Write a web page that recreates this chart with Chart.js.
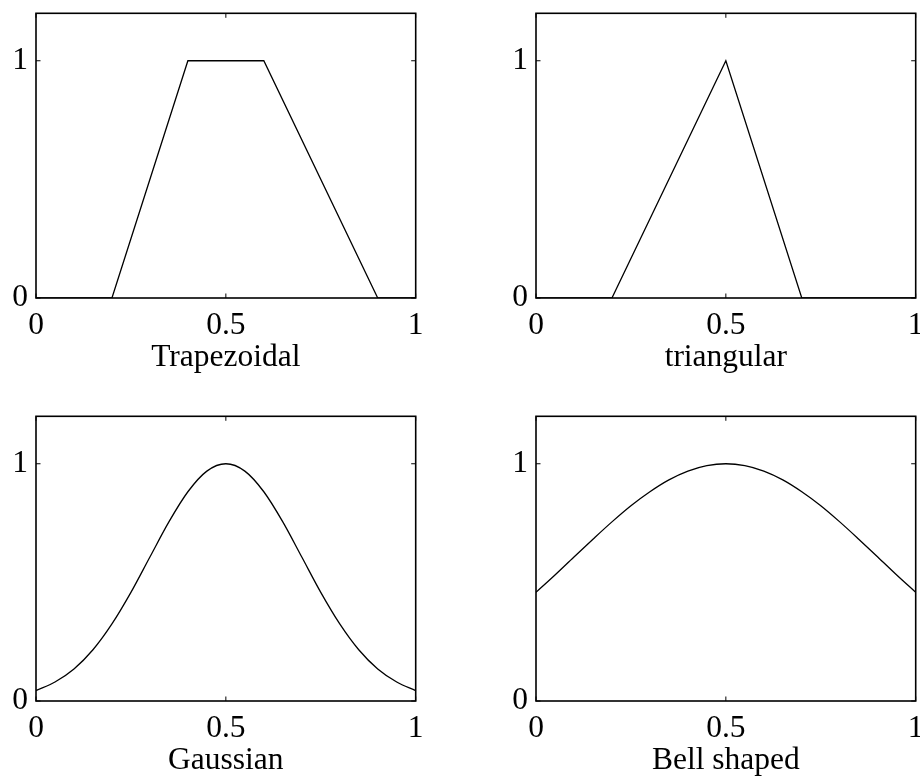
<!DOCTYPE html>
<html>
<head>
<meta charset="utf-8">
<script src="https://cdn.jsdelivr.net/npm/chart.js@4/dist/chart.umd.min.js"></script>
<style>
  html, body { margin: 0; padding: 0; background: #fff; overflow: hidden; }
  #wrap { position: relative; width: 920px; height: 778px; overflow: hidden; }
  canvas { position: absolute; }
</style>
</head>
<body>
<div id="wrap">
  <canvas id="c0" width="500" height="389" style="left:0;top:0"></canvas>
  <canvas id="c1" width="500" height="389" style="left:500px;top:0"></canvas>
  <canvas id="c2" width="500" height="389" style="left:0;top:403.4px"></canvas>
  <canvas id="c3" width="500" height="389" style="left:500px;top:403.4px"></canvas>
</div>
<script>
// membership functions, x in [0, 1]
var titles = ['Trapezoidal', 'triangular', 'Gaussian', 'Bell shaped'];
var xTicks = [0, 0.5, 1];
var yTicks = [0, 1];

var trapX = [0, 0.2, 0.4, 0.6, 0.9, 1];
var trapY = [0, 0, 1, 1, 0, 0];

var triX = [0, 0.2, 0.5, 0.7, 1];
var triY = [0, 0, 1, 0, 0];

var curveX = [0, 0.05, 0.1, 0.15, 0.2, 0.25, 0.3, 0.35, 0.4, 0.45, 0.5,
              0.55, 0.6, 0.65, 0.7, 0.75, 0.8, 0.85, 0.9, 0.95, 1];
var gaussY = [0.044, 0.080, 0.135, 0.216, 0.325, 0.458, 0.607, 0.755, 0.882, 0.969, 1.000,
              0.969, 0.882, 0.755, 0.607, 0.458, 0.325, 0.216, 0.135, 0.080, 0.044];
var bellY  = [0.458, 0.531, 0.607, 0.682, 0.755, 0.823, 0.882, 0.932, 0.969, 0.992, 1.000,
              0.992, 0.969, 0.932, 0.882, 0.823, 0.755, 0.682, 0.607, 0.531, 0.458];

var FONT = 'Liberation Serif, Times New Roman, serif';
var FSIZE = 31.5;

function pts(xs, ys) {
	return xs.map(function(x, i) { return {x: x, y: ys[i]}; });
}

// box round the axes plus short inward ticks on all four sides
var framePlugin = {
	id: 'frame',
	afterDraw: function(chart) {
		var ctx = chart.ctx, a = chart.chartArea;
		var sx = chart.scales.x, sy = chart.scales.y;
		var tl = 4.5;
		ctx.save();
		ctx.strokeStyle = '#000';
		ctx.lineWidth = 1.6;
		ctx.strokeRect(a.left, a.top, a.right - a.left, a.bottom - a.top);
		ctx.lineWidth = 1;
		ctx.beginPath();
		xTicks.forEach(function(v) {
			var px = sx.getPixelForValue(v);
			ctx.moveTo(px, a.bottom); ctx.lineTo(px, a.bottom - tl);
			ctx.moveTo(px, a.top); ctx.lineTo(px, a.top + tl);
		});
		yTicks.forEach(function(v) {
			var py = sy.getPixelForValue(v);
			ctx.moveTo(a.left, py); ctx.lineTo(a.left + tl, py);
			ctx.moveTo(a.right, py); ctx.lineTo(a.right - tl, py);
		});
		ctx.stroke();
		ctx.restore();
	}
};

function makeChart(id, title, data, smooth) {
	var config = {
		type: 'line',
		data: {
			datasets: [{
				data: data,
				borderColor: '#000',
				borderWidth: 1.3,
				pointRadius: 0,
				fill: false,
				tension: 0,
				cubicInterpolationMode: smooth ? 'monotone' : 'default'
			}]
		},
		options: {
			responsive: false,
			animation: false,
			devicePixelRatio: 1,
			layout: { padding: { left: 0, top: 13.3, right: 84.3, bottom: 0 } },
			plugins: { legend: { display: false }, tooltip: { enabled: false } },
			scales: {
				x: {
					type: 'linear',
					min: 0, max: 1,
					grid: { display: false, drawTicks: false },
					border: { display: false },
					afterBuildTicks: function(s) { s.ticks = xTicks.map(function(v) { return {value: v}; }); },
					afterFit: function(s) {
						s.height = 91;
						s.paddingLeft = 0; s.paddingRight = 0; s.paddingTop = 0; s.paddingBottom = 0;
					},
					ticks: {
						autoSkip: false, maxRotation: 0, padding: 12.2, color: '#000',
						font: { family: FONT, size: FSIZE, lineHeight: 1 },
						callback: function(v) { return String(v); }
					},
					title: {
						display: true, text: title, color: '#000',
						font: { family: FONT, size: FSIZE, lineHeight: 1 },
						padding: { top: 0, bottom: 15.6 }
					}
				},
				y: {
					type: 'linear',
					min: 0, max: 1.2,
					grid: { display: false, drawTicks: false },
					border: { display: false },
					afterBuildTicks: function(s) { s.ticks = yTicks.map(function(v) { return {value: v}; }); },
					afterFit: function(s) {
						s.width = 36;
						s.paddingLeft = 0; s.paddingRight = 0; s.paddingTop = 0; s.paddingBottom = 0;
					},
					ticks: {
						autoSkip: false, padding: 8, color: '#000',
						font: { family: FONT, size: FSIZE, lineHeight: 1 },
						callback: function(v) { return String(v); }
					}
				}
			}
		},
		plugins: [framePlugin]
	};
	return new Chart(document.getElementById(id).getContext('2d'), config);
}

makeChart('c0', titles[0], pts(trapX, trapY), false);
makeChart('c1', titles[1], pts(triX, triY), false);
makeChart('c2', titles[2], pts(curveX, gaussY), true);
makeChart('c3', titles[3], pts(curveX, bellY), true);
</script>
</body>
</html>
